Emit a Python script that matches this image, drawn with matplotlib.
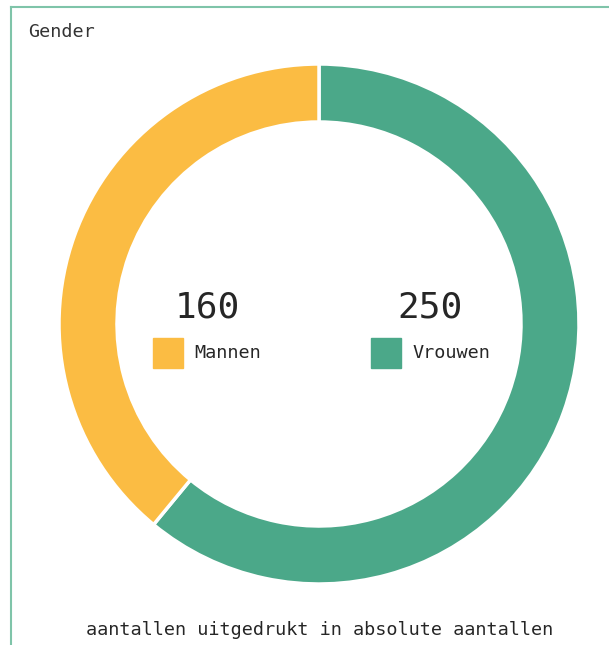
import matplotlib
matplotlib.use("Agg")
from matplotlib import pyplot as plt
from matplotlib.patches import Rectangle
from matplotlib.lines import Line2D

labels = ["Vrouwen", "Mannen"]
values = [250, 160]
colors = ["#4ba889", "#fbbc43"]
title = "Gender"
caption = "aantallen uitgedrukt in absolute aantallen"

W, H = 609, 645
plt.rcParams["font.family"] = ["DejaVu Sans Mono"]
fig = plt.figure(figsize=(W / 100, H / 100), dpi=100)

def fx(px): return px / W
def fy(py): return 1 - py / H

# card border (top and left)
border = "#7fc4a9"
fig.add_artist(Line2D([fx(11), 1], [fy(7), fy(7)], color=border, lw=1.5, transform=fig.transFigure))
fig.add_artist(Line2D([fx(11), fx(11)], [fy(7), 0], color=border, lw=1.5, transform=fig.transFigure))

fig.text(fx(28), fy(32), title, fontsize=13.3, color="#333333", va="center", ha="left")

# donut
cx, cy, r = 319, 324, 260
ax = fig.add_axes([fx(cx - r), fy(cy + r), 2 * r / W, 2 * r / H])
ax.pie(values, colors=colors, startangle=90, counterclock=False, radius=1,
       wedgeprops=dict(width=58 / r, edgecolor="white", linewidth=2.5))
ax.set_xlim(-1, 1)
ax.set_ylim(-1, 1)
ax.set_aspect("equal")
ax.axis("off")

# center legend
spots = {"Mannen": (153, 207), "Vrouwen": (371, 430)}
for lab, val, col in zip(labels, values, colors):
    sx, vx = spots[lab]
    fig.text(fx(vx), fy(307), str(val), fontsize=26, color="#262626", ha="center", va="center")
    fig.add_artist(Rectangle((fx(sx), fy(368)), 30 / W, 30 / H, color=col, transform=fig.transFigure))
    fig.text(fx(sx + 41), fy(353), lab, fontsize=13.3, color="#262626", ha="left", va="center")

fig.text(fx(320), fy(630), caption, fontsize=13.3, color="#262626", ha="center", va="center")

fig.savefig("out.png", dpi=100)
